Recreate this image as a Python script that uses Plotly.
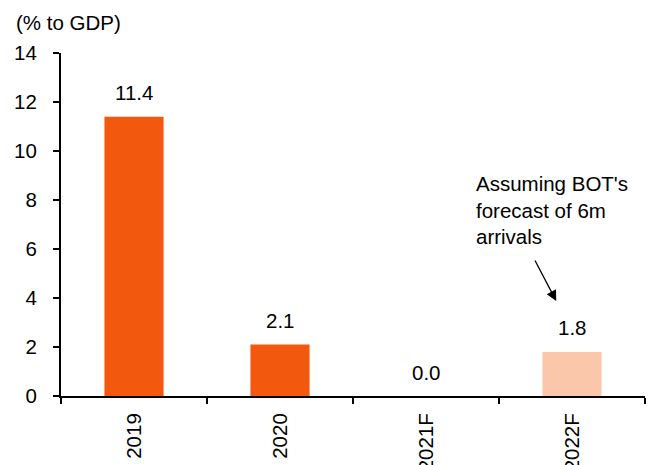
import plotly.graph_objects as go

# Tourism receipts, % of GDP
categories = ["2019", "2020", "2021F", "2022F"]
values = [11.4, 2.1, 0.0, 1.8]
bar_colors = ["#F2590F", "#F2590F", "#F2590F", "#FAC7AB"]

note_text = "Assuming BOT's<br>forecast of 6m<br>arrivals"

FONT = "Arial, Liberation Sans, sans-serif"
SIZE = 20.5

fig = go.Figure()
fig.add_trace(go.Bar(
    x=categories,
    y=values,
    marker=dict(color=bar_colors, line=dict(width=0)),
    width=0.405,
    hoverinfo="skip",
))

# value labels above each bar (positioned by category index)
for i, v in enumerate(values):
    fig.add_annotation(
        x=i, y=v, text=f"{v:.1f}", showarrow=False,
        xref="x", yref="y", yanchor="middle", yshift=24,
        font=dict(family=FONT, size=SIZE, color="#000000"),
    )

# forecast note with arrow pointing to the 2022F bar
fig.add_annotation(
    x=0.708, y=0.66, xref="paper", yref="paper",
    text=note_text, showarrow=False, align="left",
    xanchor="left", yanchor="top",
    font=dict(family=FONT, size=SIZE, color="#000000"),
)
fig.add_annotation(
    x=0.848, y=0.277, xref="paper", yref="paper",
    ax=-22, ay=-42, axref="pixel", ayref="pixel",
    text="", showarrow=True, arrowhead=2, arrowsize=1.6,
    arrowwidth=1.3, arrowcolor="#000000",
)

# unit label above the y axis
fig.add_annotation(
    x=-47 / 584, y=1 + 31 / 343, xref="paper", yref="paper",
    text="(% to GDP)", showarrow=False, xanchor="left", yanchor="middle",
    font=dict(family=FONT, size=SIZE, color="#000000"),
)

fig.update_layout(
    width=660, height=465,
    margin=dict(l=61, r=15, t=53, b=69),
    paper_bgcolor="white", plot_bgcolor="white",
    showlegend=False,
    font=dict(family=FONT, size=SIZE, color="#000000"),
)

fig.update_xaxes(
    type="category", range=[-0.5, 3.5], automargin=False,
    showline=True, linecolor="#000000", linewidth=2,
    ticks="outside", tickson="boundaries", ticklen=6, tickwidth=2,
    tickcolor="#000000", tickangle=-90,
    tickfont=dict(family=FONT, size=SIZE, color="#000000"),
    ticklabelstandoff=7,
    showgrid=False, zeroline=False, fixedrange=True,
)
fig.update_yaxes(
    range=[0, 14], dtick=2, tick0=0, automargin=False,
    showline=True, linecolor="#000000", linewidth=2,
    ticks="outside", ticklen=6, tickwidth=2, tickcolor="#000000",
    tickfont=dict(family=FONT, size=SIZE, color="#000000"),
    ticklabelstandoff=12,
    showgrid=False, zeroline=False, fixedrange=True,
)

fig.write_html("out.html")
